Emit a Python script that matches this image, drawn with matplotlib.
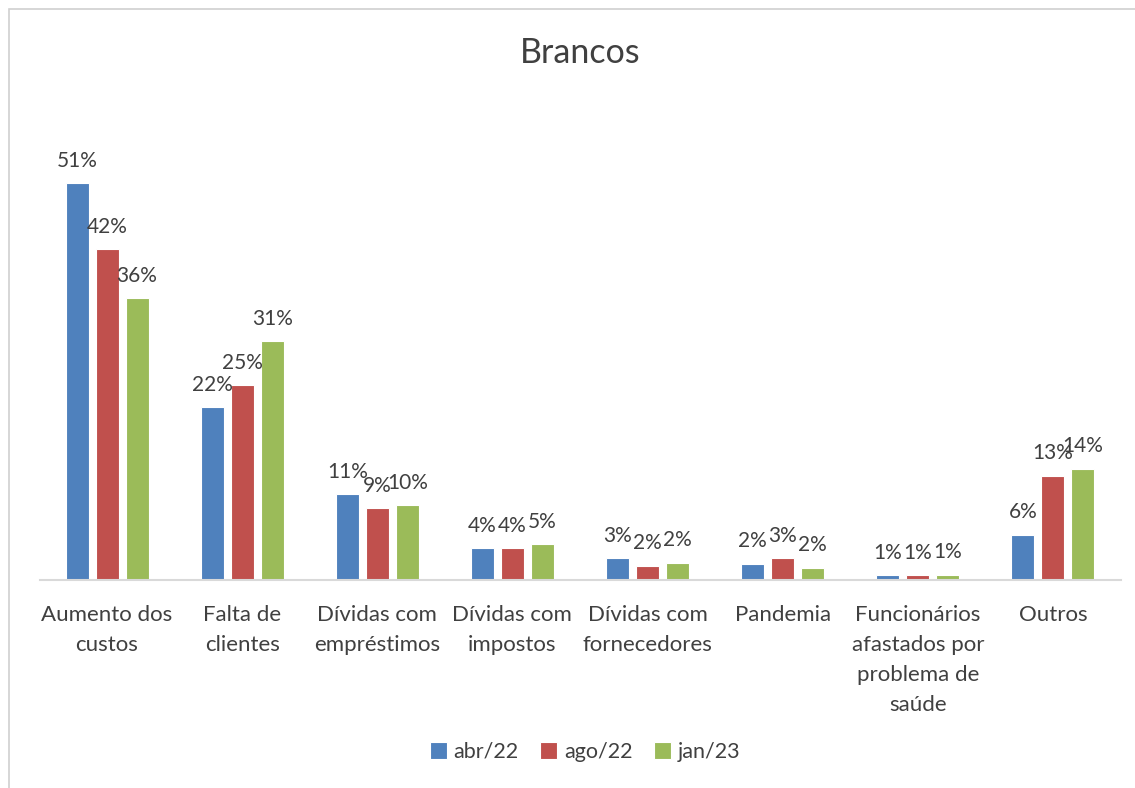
import numpy as np
import matplotlib.pyplot as plt
from matplotlib.patches import Rectangle

categories = ['Aumento dos\ncustos', 'Falta de\nclientes', 'Dívidas com\nempréstimos',
              'Dívidas com\nimpostos', 'Dívidas com\nfornecedores', 'Pandemia',
              'Funcionários\nafastados por\nproblema de\nsaúde', 'Outros']
series = ['abr/22', 'ago/22', 'jan/23']
abr22 = [0.51, 0.222, 0.11, 0.041, 0.028, 0.021, 0.006, 0.058]
ago22 = [0.425, 0.25, 0.092, 0.041, 0.018, 0.028, 0.006, 0.134]
jan23 = [0.362, 0.307, 0.096, 0.046, 0.022, 0.016, 0.007, 0.143]
colors = ['#4F81BD', '#C0504D', '#9BBB59']
text_color = '#404040'

plt.rcParams['font.family'] = ['Lato', 'DejaVu Sans']

W, H = 1135, 788
fig = plt.figure(figsize=(W / 100, H / 100), dpi=100)
ax = fig.add_axes([39.5 / W, (H - 580) / H, 1081 / W, 470 / H])

# light frame around the chart area (cropped at right/bottom like the source)
fig.patches.append(Rectangle((9 / W, -0.1), 1.2, (H - 9) / H + 0.1, transform=fig.transFigure,
                             fill=False, edgecolor='#D0D0D0', linewidth=1.2))

x = np.arange(len(categories))
width = 0.17
step = 0.222
for k, (vals, name) in enumerate(zip([abr22, ago22, jan23], series)):
    pos = x + (k - 1) * step
    bars = ax.bar(pos, vals, width, color=colors[k], edgecolor='white', linewidth=0.8, label=name)
    for b, v in zip(bars, vals):
        ax.annotate(f'{round(v * 100):.0f}%', (b.get_x() + b.get_width() / 2, v),
                    xytext=(0, 9), textcoords='offset points', ha='center', va='bottom',
                    fontsize=15, color=text_color)

ax.set_xlim(-0.5, len(categories) - 0.5)
ax.set_ylim(0, 0.604)
ax.set_yticks([])
ax.set_xticks(x)
ax.set_xticklabels(categories, fontsize=16, color=text_color, linespacing=1.62)
ax.tick_params(axis='x', length=0, pad=18)
for s in ['top', 'right', 'left']:
    ax.spines[s].set_visible(False)
ax.spines['bottom'].set_color('#D9D9D9')
ax.spines['bottom'].set_linewidth(1.5)

fig.text(580 / W, 1 - 53 / H, 'Brancos', ha='center', va='center', fontsize=24.5, color=text_color)

fig.legend(loc='center', bbox_to_anchor=(585 / W, 1 - 752 / H), ncol=3, frameon=False,
           fontsize=15.5, handlelength=0.8, handleheight=0.8, handletextpad=0.3,
           columnspacing=1.0, labelcolor=text_color)

plt.savefig('out.png', dpi=100)
